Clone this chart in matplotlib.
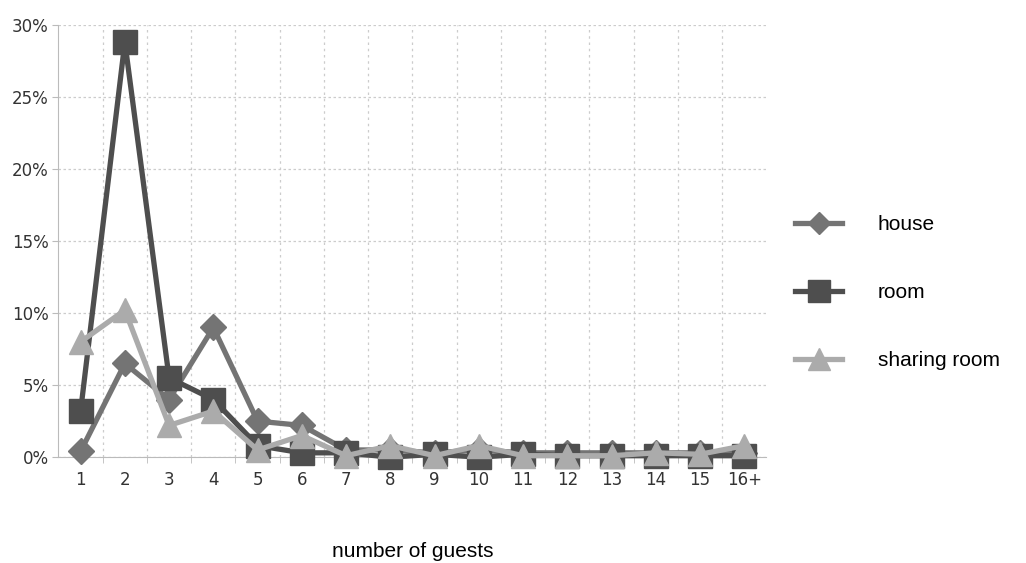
import matplotlib
matplotlib.use("Agg")
from matplotlib import pyplot as plt
from matplotlib.ticker import FuncFormatter, MultipleLocator

# data (percent of listings)
guests = ["1", "2", "3", "4", "5", "6", "7", "8", "9", "10", "11", "12", "13", "14", "15", "16+"]
house = [0.4, 6.5, 4.0, 9.0, 2.5, 2.2, 0.5, 0.5, 0.3, 0.5, 0.3, 0.3, 0.3, 0.3, 0.3, 0.3]
room = [3.2, 28.8, 5.5, 4.0, 0.8, 0.3, 0.3, 0.0, 0.2, 0.0, 0.2, 0.1, 0.1, 0.1, 0.1, 0.1]
sharing_room = [8.0, 10.2, 2.2, 3.2, 0.5, 1.5, 0.1, 0.8, 0.1, 0.8, 0.1, 0.1, 0.1, 0.3, 0.2, 0.8]

fig = plt.figure(figsize=(10.26, 5.63), dpi=100)
ax = fig.add_axes([0.057, 0.188, 0.69, 0.768])

x = range(len(guests))
ax.plot(x, house, color="#747474", lw=3.8, marker="D", ms=13, label="house", clip_on=False, zorder=3)
ax.plot(x, room, color="#4e4e4e", lw=3.8, marker="s", ms=17, label="room", clip_on=False, zorder=4)
ax.plot(x, sharing_room, color="#ababab", lw=3.8, marker="^", ms=17, label="sharing room", clip_on=False, zorder=5)

ax.set_xlim(-0.5, len(guests) - 0.5)
ax.set_ylim(0, 30)
ax.set_xticks(list(x))
ax.set_xticklabels(guests)
ax.set_xticks([i + 0.5 for i in range(len(guests) - 1)], minor=True)
ax.yaxis.set_major_locator(MultipleLocator(5))
ax.yaxis.set_major_formatter(FuncFormatter(lambda v, p: "%d%%" % v))

ax.grid(which="minor", axis="x", color="#cccccc", ls=(0, (2, 3)), lw=0.9)
ax.grid(which="major", axis="y", color="#cccccc", ls=(0, (2, 2)), lw=0.9)
for s in ["top", "right"]:
    ax.spines[s].set_visible(False)
ax.spines["left"].set_color("#bbbbbb")
ax.spines["bottom"].set_color("#bbbbbb")
ax.tick_params(axis="x", which="major", length=0, pad=10)
ax.tick_params(axis="x", which="minor", length=4, color="#bbbbbb")
ax.tick_params(axis="y", length=4, color="#bbbbbb", pad=3)
for t in ax.get_xticklabels() + ax.get_yticklabels():
    t.set_family(["Liberation Sans Narrow", "DejaVu Sans"])
    t.set_fontsize(12)
    t.set_color("#333333")

ax.set_xlabel("number of guests", fontsize=15, labelpad=38, family="Liberation Sans")

leg = ax.legend(loc="center left", bbox_to_anchor=(1.028, 0.38), frameon=False,
                prop={"family": "Liberation Sans", "size": 15}, labelspacing=2.35,
                handlelength=2.3, handletextpad=1.7, markerscale=0.9, borderaxespad=0)

plt.savefig("out.png", dpi=100)
